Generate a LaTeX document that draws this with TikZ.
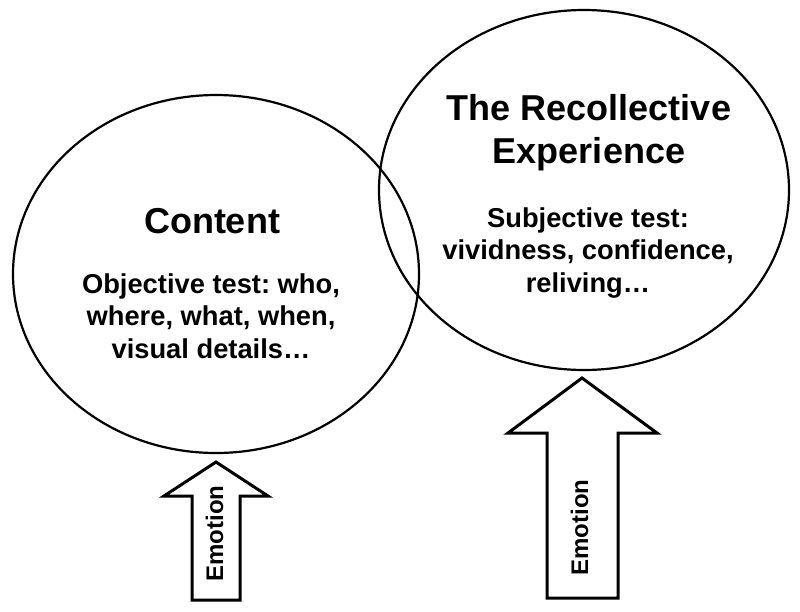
\documentclass[tikz,border=0pt]{standalone}
\usepackage{fontspec}
\setmainfont{Liberation Sans}
\frenchspacing
\begin{document}
\begin{tikzpicture}[x=1pt,y=-1pt, line join=miter, line cap=butt, inner sep=0]
	\def\ttl{\fontsize{36}{43}\selectfont\bfseries}
	\def\txt{\fontsize{27.3}{32.5}\selectfont\bfseries}
	\def\emo{\fontsize{24}{28}\selectfont\bfseries}
	\useasboundingbox (0,0) rectangle (800,611);
	% the two circles
	\draw[line width=2.2pt] (216,274) ellipse (203 and 179);
	\draw[line width=2.2pt] (584,190) ellipse (205 and 180);
	% texts
	\node[anchor=base,font=\ttl] (content) at (212,233) {Content};
	\node[anchor=north,align=center,font=\txt] (objective) at (211,273.5) {Objective test: who,\\ where, what, when,\\ visual details\dots};
	\node[anchor=north,align=center,font=\ttl] (recollect) at (589,94) {The Recollective\\ Experience};
	\node[anchor=north,align=center,font=\txt] (subjective) at (588,207.5) {Subjective test:\\ vividness, confidence,\\ reliving\dots};
	% the arrows
	\draw[line width=3pt] (192,600)--(192,496)--(164,496)--(216,462)--(268,496)--(240,496)--(240,600)--cycle;
	\draw[line width=3pt] (547,598)--(547,433)--(508,433)--(582,378)--(657,433)--(618,433)--(618,598)--cycle;
	\node[rotate=90,anchor=base,font=\emo] (emoleft) at (223,533.5) {Emotion};
	\node[rotate=90,anchor=base,font=\emo] (emoright) at (588,527.5) {Emotion};
\end{tikzpicture}
\end{document}
